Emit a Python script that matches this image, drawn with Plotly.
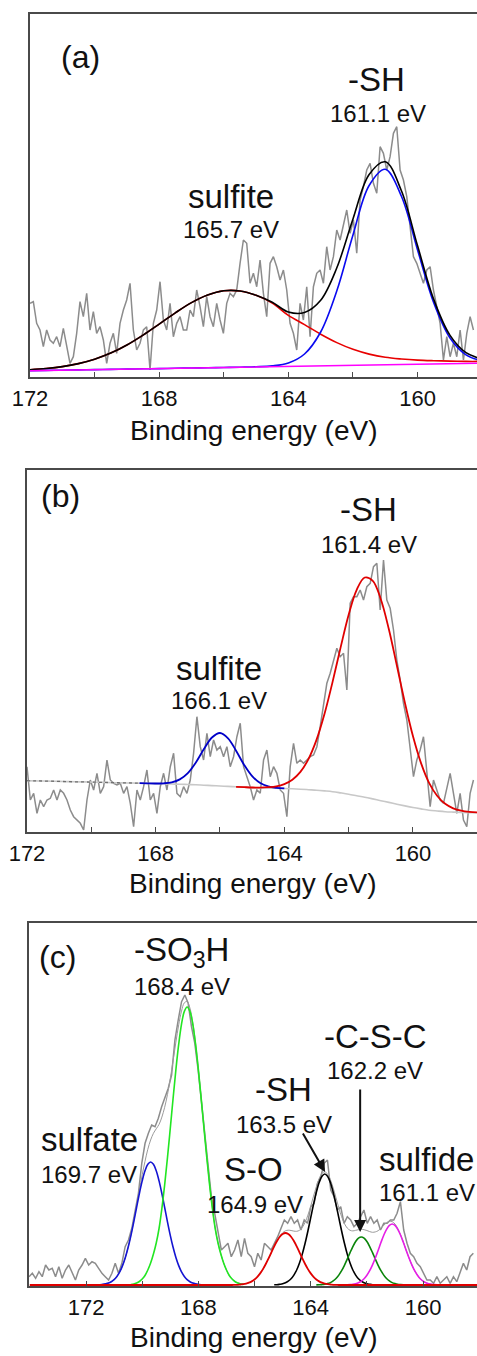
import numpy as np
import plotly.graph_objects as go

W, H = 477, 1356
FONT = "Liberation Sans, Arial, sans-serif"

# ------------------------------------------------------------------ panel (a)
a_data_E0, a_data_E1 = 172.0, 158.27
a_data = [73.7,75.3,53.7,47,30.3,47,37,33.7,40.3,30.3,48.7,30.3,13.7,20.3,43.7,75.3,60.3,83.7,47,65.3,
          43.7,50.3,37,13.7,33.7,43.7,23.7,53.7,67,77,93.7,47,27,33.7,47,50.3,7,53.7,67,95.3,
          57,47,73.7,40.3,53.7,60.3,47,47,67,60.3,87,70.3,50.3,80.3,60.3,50.3,73.7,57,43.7,73.7,
          83.7,80.3,87,113.7,137,133.7,
          93.7,103.7,90.3,117,83.7,60.3,113.7,120.3,110.3,97,107,87,53.7,43.7,27,73.7,57,90.3,40.3,90.3,
          103.7,107,93.7,130.3,107,120.3,147,137,153.7,167,143.7,157,123.7,177,190.3,207,213.7,193.7,183.7,230.3,
          223.7,207,220.3,243.7,250.3,207,197,180.3,150.3,120.3,113.7,103.7,93.7,107,110.3,87,70.3,53.7,17,40.3,
          20.3,33.7,20.3,47,17,43.7,60.3,47]
a_fit_E0, a_fit_step = 172.0, 0.5
a_base = [6.3,6.6,6.8,7.1,7.4,7.6,7.9,8.2,8.4,8.7,9.0,9.2,9.5,9.8,10.1,10.3,10.6,10.9,11.1,11.4,
          11.7,11.9,12.2,12.5,12.7,13.0,13.3,13.5,13.8]
a_sulfite = [1.0,1.9,3.6,6.3,10.4,16.3,24.1,33.7,44.5,55.5,65.4,72.8,76.7,76.2,71.6,63.6,51.0,41.5,31.7,23.0,
             16.0,11.0,7.5,5.5,4.2,3.3,2.6,2.1,1.8]
a_sh = [0,0,0,0,0,0,0,0,0,0,0,0,0,0,0.1,0.8,3.4,12.1,33.9,74.8,
        130.4,179.6,195.5,168.2,114.3,61.3,26.0,8.7,2.3]

# ------------------------------------------------------------------ panel (b)
b_data_E0, b_data_E1 = 172.0, 158.12
b_data = [65.3,32,38.7,18.7,32,25.3,32,33.7,42,32,42,38.7,32,22,15.3,12,8.7,2,32,52,
          42,58.7,38.7,45.3,72,52,48.7,47,48.7,38.7,45.3,28.7,5.3,42,32,45.3,62,32,38.7,18.7,
          45.3,58.7,42,65.3,78.7,38.7,35.3,45.3,38.7,52,78.7,115.3,85.3,72,98.7,75.3,92,82,85.3,75.3,
          85.3,65.3,75.3,95.3,108.7,65.3,55.3,
          45.3,32,42,38.7,72,82,55.3,65.3,58.7,42,38.7,15.3,65.3,88.7,68.7,72,68.7,72,75.3,77,
          85.3,105.3,127,148.7,158.7,172,183.7,175.3,178.7,142,228.7,235.3,235.3,242,232,245.3,248.7,265.3,268.7,222,
          272,232,223.7,202,172,152,128.7,112,85.3,55.3,72,82,95.3,58.7,25.3,52,42,32,28.7,45.3,
          58.7,38.7,18.7,38.7,12,5.3,38.7,52]
b_fit_E0, b_fit_step = 172.0, 0.25
b_base = [51.3,51.1,51.0,50.8,50.6,50.4,50.2,50.1,49.9,49.7,49.5,49.3,49.1,49.0,48.8,48.6,48.4,48.2,48.0,47.8,
          47.5,47.2,46.8,46.4,46.0,45.6,45.2,44.8,44.4,44.1,43.9,43.7,43.5,43.2,42.8,42.3,41.8,41.1,40.3,39.1,
          37.8,36.3,34.8,33.1,31.3,29.6,27.8,26.1,24.5,23.1,21.8,21.0,20.3,19.9,19.6,19.4,19.3]
b_dash_end_E = 168.5
b_sulfite_E0 = 168.5
b_sulfite = [0.0,0.0,0.1,0.5,1.7,4.8,11.4,22.3,36.1,48.1,53.0,48.1,36.1,22.3,11.4,4.8,1.7,0.5,0.1]
b_sh_E0 = 165.5
b_sh = [0.0,0.04,0.1,0.3,0.9,2.0,4.4,9.1,17.3,30.6,50.3,77.1,109.8,145.5,179.5,205.9,219.7,218.1,201.5,173.1,
        138.4,102.9,71.2,45.8,27.4,15.3,7.9,3.8,1.7,0.7,0.3]

# ------------------------------------------------------------------ panel (c)
c_data_E0, c_data_E1 = 174.03, 158.21
c_data = [9.3,12.7,7.7,14.3,9.3,21,16,17.7,9.3,19.3,7.7,16,21,14.3,6,16,21,27.7,21,24.3,
          22.7,17.7,12.7,9.3,6,12.7,22.7,12.7,22.7,39.3,46,57.7,76,92.7,122.7,142.7,152.7,161,159.3,167.7,
          179.3,187.7,197.7,211,246,266,284.3,291,282.7,259.3,242.7,216,186,149.3,119.3,89.3,72.7,56,36,39.3,
          42.7,29.3,36,46,29.3,47.7,32.7,
          29.3,19.3,32.7,26,42.7,39.3,36,42.7,49.3,57.7,66,62.7,69.3,62.7,66,56,66,62.7,79.3,82.7,
          102.7,109.3,122.7,126,96,89.3,76,79.3,62.7,69.3,66,59.3,62.7,69.3,76,62.7,69.3,62.7,66,56,
          62.7,62.7,66,66,72.7,84.3,56,42.7,32.7,29.3,22.7,19.3,12.7,6,6,2.7,9.3,2.7,6,9.3,
          2.7,9.3,4.3,12.7,22.7,16,29.3,32.7]
c_grid_E0, c_grid_step, c_grid_n = 174.0, 0.1, 161
c_base = 1.0
c_sulfate_E0 = 171.5
c_sulfate = [0.3,0.6,1.1,1.9,3.3,5.4,8.6,13.1,19.4,27.5,37.7,49.7,63.2,77.5,91.5,104.1,114.2,120.7,123,
             120.7,114.2,104.1,91.5,77.5,63.2,49.7,37.7,27.5,19.4,13.1,8.6,5.4,3.3,1.9,1.1,0.6,0.3]
c_so3h_E0 = 170.4
c_so3h = [0.5,1,2,3.5,6,9.5,15,22,31,42,56.5,76.4,100.2,127.3,156.6,186.6,215.4,240.8,260.8,273.6,278,
          273.6,260.8,240.8,215.4,186.6,156.6,127.3,100.2,76.4,56.5,42,31,22,15,9.5,6,3.5,2,1,0.5]
c_so_E0 = 166.7
c_so = [0.1,0.2,0.5,0.8,1.4,2.3,3.6,5.5,8.2,11.6,15.9,21.0,26.7,32.7,38.7,44.0,48.3,51.0,52,
        51.0,48.3,44.0,38.7,32.7,26.7,21.0,15.9,11.6,8.2,5.5,3.6,2.3,1.4,0.8,0.5,0.2,0.1]
c_sh_E0 = 165.3
c_sh = [0.2,0.3,0.7,1.2,2.2,3.8,6.2,9.9,15.0,22.0,30.9,41.7,54.0,67.3,80.6,92.7,102.5,108.8,111,
        108.8,102.5,92.7,80.6,67.3,54.0,41.7,30.9,22.0,15.0,9.9,6.2,3.8,2.2,1.2,0.7,0.3,0.2]
c_csc_E0 = 163.8
c_csc = [0.1,0.2,0.4,0.7,1.4,2.4,4.1,6.5,9.9,14.3,19.7,25.9,32.3,38.4,43.5,46.8,48,
         46.8,43.5,38.4,32.3,25.9,19.7,14.3,9.9,6.5,4.1,2.4,1.4,0.7,0.4,0.2,0.1]
c_sulfide_E0 = 162.7
c_sulfide = [0.2,0.4,0.7,1.3,2.3,3.9,6.3,9.8,14.3,20.1,27.0,34.6,42.5,49.8,55.7,59.6,61,
             59.6,55.7,49.8,42.5,34.6,27.0,20.1,14.3,9.8,6.3,3.9,2.3,1.3,0.7,0.4,0.2]

# ------------------------------------------------------------------ axes / ticks
tick_vals = [172, 170, 168, 166, 164, 162, 160]
tick_text = ["172", "", "168", "", "164", "", "160"]
x_title = "Binding energy (eV)"

BIG, SMALL, LETTER = 33, 24, 32
# text labels: (text, E, intensity, size)
a_labels = [("(a)", 170.45, 320, LETTER), ("-SH", 161.26, 297, BIG), ("161.1 eV", 161.24, 263, SMALL),
            ("sulfite", 165.78, 180, BIG), ("165.7 eV", 165.78, 147, SMALL)]
b_labels = [("(b)", 170.97, 336, LETTER), ("-SH", 161.37, 323, BIG), ("161.4 eV", 161.37, 288, SMALL),
            ("sulfite", 166.03, 164, BIG), ("166.1 eV", 166.03, 132, SMALL)]
c_labels = [("(c)", 173.0, 329, LETTER), ("-SO<sub>3</sub>H", 168.59, 334, BIG), ("168.4 eV", 168.59, 300, SMALL),
            ("sulfate", 171.89, 147, BIG), ("169.7 eV", 171.89, 112, SMALL),
            ("S-O", 166.03, 117, BIG), ("164.9 eV", 165.98, 82, SMALL),
            ("-SH", 164.98, 197, BIG), ("163.5 eV", 164.95, 162, SMALL),
            ("-C-S-C", 161.71, 250, BIG), ("162.2 eV", 161.71, 216, SMALL),
            ("sulfide", 159.87, 127, BIG), ("161.1 eV", 159.87, 94, SMALL)]

# panel geometry in pixels: left, top, bottom, x range, y range
panels = {
    "a": dict(left=30, top=14, bottom=377, xr=[172.0, 158.16], yr=[0, 363], tshift=53),
    "b": dict(left=27, top=470, bottom=832, xr=[172.0, 158.01], yr=[0, 362], tshift=51),
    "c": dict(left=29, top=923, bottom=1286, xr=[174.03, 158.08], yr=[0, 363], tshift=51),
}

DATA_GRAY = "#8c8c8c"
FRAME = "#4a4a4a"

fig = go.Figure()


def add_line(E, y, color, ax, width=1.6, shape="spline", dash=None):
    fig.add_trace(go.Scatter(x=E, y=y, mode="lines", xaxis="x" + ax, yaxis="y" + ax,
                             line=dict(color=color, width=width, shape=shape, dash=dash),
                             hoverinfo="skip", showlegend=False))


# ---- (a)
aE = np.linspace(a_data_E0, a_data_E1, len(a_data))
fE = np.round(a_fit_E0 - a_fit_step * np.arange(len(a_base)), 3)
ab, asu, ash = np.array(a_base), np.array(a_sulfite), np.array(a_sh)
add_line(aE, a_data, DATA_GRAY, "", width=1.5, shape="linear")
add_line(fE, ab + asu, "#e80000", "")
add_line(fE, ab + ash, "#0a0af0", "")
add_line(fE, ab + asu + ash, "#000000", "")
add_line(fE, ab, "#ff00ff", "", width=1.6, shape="linear")

# ---- (b)
bE = np.linspace(b_data_E0, b_data_E1, len(b_data))
gE = np.round(b_fit_E0 - b_fit_step * np.arange(len(b_base)), 3)
bb = np.array(b_base)
add_line(bE, b_data, DATA_GRAY, "2", width=1.5, shape="linear")
add_line(gE, bb, "#c8c8c8", "2", width=1.6)
i_dash = int(round((b_fit_E0 - b_dash_end_E) / b_fit_step))
add_line(gE[:i_dash + 1], bb[:i_dash + 1], "#707070", "2", width=1.3, dash="3px,3px")
i0 = int(round((b_fit_E0 - b_sulfite_E0) / b_fit_step))
add_line(gE[i0:i0 + len(b_sulfite)], bb[i0:i0 + len(b_sulfite)] + np.array(b_sulfite), "#0000c8", "2", width=1.8)
i0 = int(round((b_fit_E0 - b_sh_E0) / b_fit_step))
add_line(gE[i0:i0 + len(b_sh)], bb[i0:i0 + len(b_sh)] + np.array(b_sh), "#e00000", "2", width=1.8)

# ---- (c)
cE = np.linspace(c_data_E0, c_data_E1, len(c_data))
hE = np.round(c_grid_E0 - c_grid_step * np.arange(c_grid_n), 2)
comps = [(c_sulfate_E0, c_sulfate, "#1414d2"), (c_so3h_E0, c_so3h, "#22e622"),
         (c_sh_E0, c_sh, "#000000"), (c_csc_E0, c_csc, "#0a850a"),
         (c_sulfide_E0, c_sulfide, "#e61ee6")]
env = np.full(c_grid_n, c_base)
placed = []
for E0, vals, col in comps + [(c_so_E0, c_so, "#e00000")]:
    k = int(round((c_grid_E0 - E0) / c_grid_step))
    v = np.array(vals, dtype=float)
    env[k:k + len(v)] += v
    placed.append((k, v, col))
add_line(cE, c_data, DATA_GRAY, "3", width=1.5, shape="linear")
add_line(hE, env, "#9a9a9a", "3", width=1.0)
for k, v, col in placed[:-1]:
    add_line(hE[k:k + len(v)], c_base + v, col, "3", width=1.6)
k, v, col = placed[-1]
so_full = np.full(c_grid_n, c_base)
so_full[k:k + len(v)] += v
add_line(hE, so_full, col, "3", width=1.8)

# ---- layout
layout = dict(width=W, height=H, margin=dict(l=0, r=0, t=0, b=0, autoexpand=False),
              paper_bgcolor="white", plot_bgcolor="white", showlegend=False,
              font=dict(family=FONT, color="#111111"))
annotations = []
for n, (key, p) in enumerate(panels.items()):
    sfx = "" if n == 0 else str(n + 1)
    layout["xaxis" + sfx] = dict(
        domain=[p["left"] / W, 1.0], range=p["xr"], anchor="y" + sfx, automargin=False,
        showline=True, linecolor=FRAME, linewidth=1.5, mirror=True,
        ticks="inside", ticklen=5, tickwidth=1.3, tickcolor=FRAME,
        tickvals=tick_vals, ticktext=tick_text, tickfont=dict(size=22, color="#111111", family=FONT),
        showgrid=False, zeroline=False, ticklabelstandoff=1)
    layout["yaxis" + sfx] = dict(
        domain=[1 - p["bottom"] / H, 1 - p["top"] / H], range=p["yr"], anchor="x" + sfx, automargin=False,
        showline=True, linecolor=FRAME, linewidth=1.5, mirror=False,
        showticklabels=False, ticks="", showgrid=False, zeroline=False)
    annotations.append(dict(text=x_title, xref="x" + sfx + " domain", yref="y" + sfx + " domain",
                            x=0.5, y=0, yshift=-p["tshift"], xanchor="center", yanchor="middle",
                            showarrow=False, font=dict(size=28, family=FONT, color="#111111")))
    labels = {"a": a_labels, "b": b_labels, "c": c_labels}[key]
    for txt, ex, iy, fs in labels:
        annotations.append(dict(text=txt, x=ex, y=iy, xref="x" + sfx, yref="y" + sfx,
                                xanchor="center", yanchor="middle", showarrow=False,
                                font=dict(size=fs, family=FONT, color="#111111")))

# arrows in panel (c)
annotations.append(dict(text="", x=163.49, y=114, xref="x3", yref="y3", ax=-23, ay=-40,
                        showarrow=True, arrowhead=2, arrowsize=1.2, arrowwidth=2, arrowcolor="#111111",
                        standoff=0))
annotations.append(dict(text="", x=162.24, y=54, xref="x3", yref="y3", ax=0, ay=-144,
                        showarrow=True, arrowhead=2, arrowsize=1.2, arrowwidth=2, arrowcolor="#111111",
                        standoff=0))
layout["annotations"] = annotations
fig.update_layout(**layout)
fig.write_html("out.html")
